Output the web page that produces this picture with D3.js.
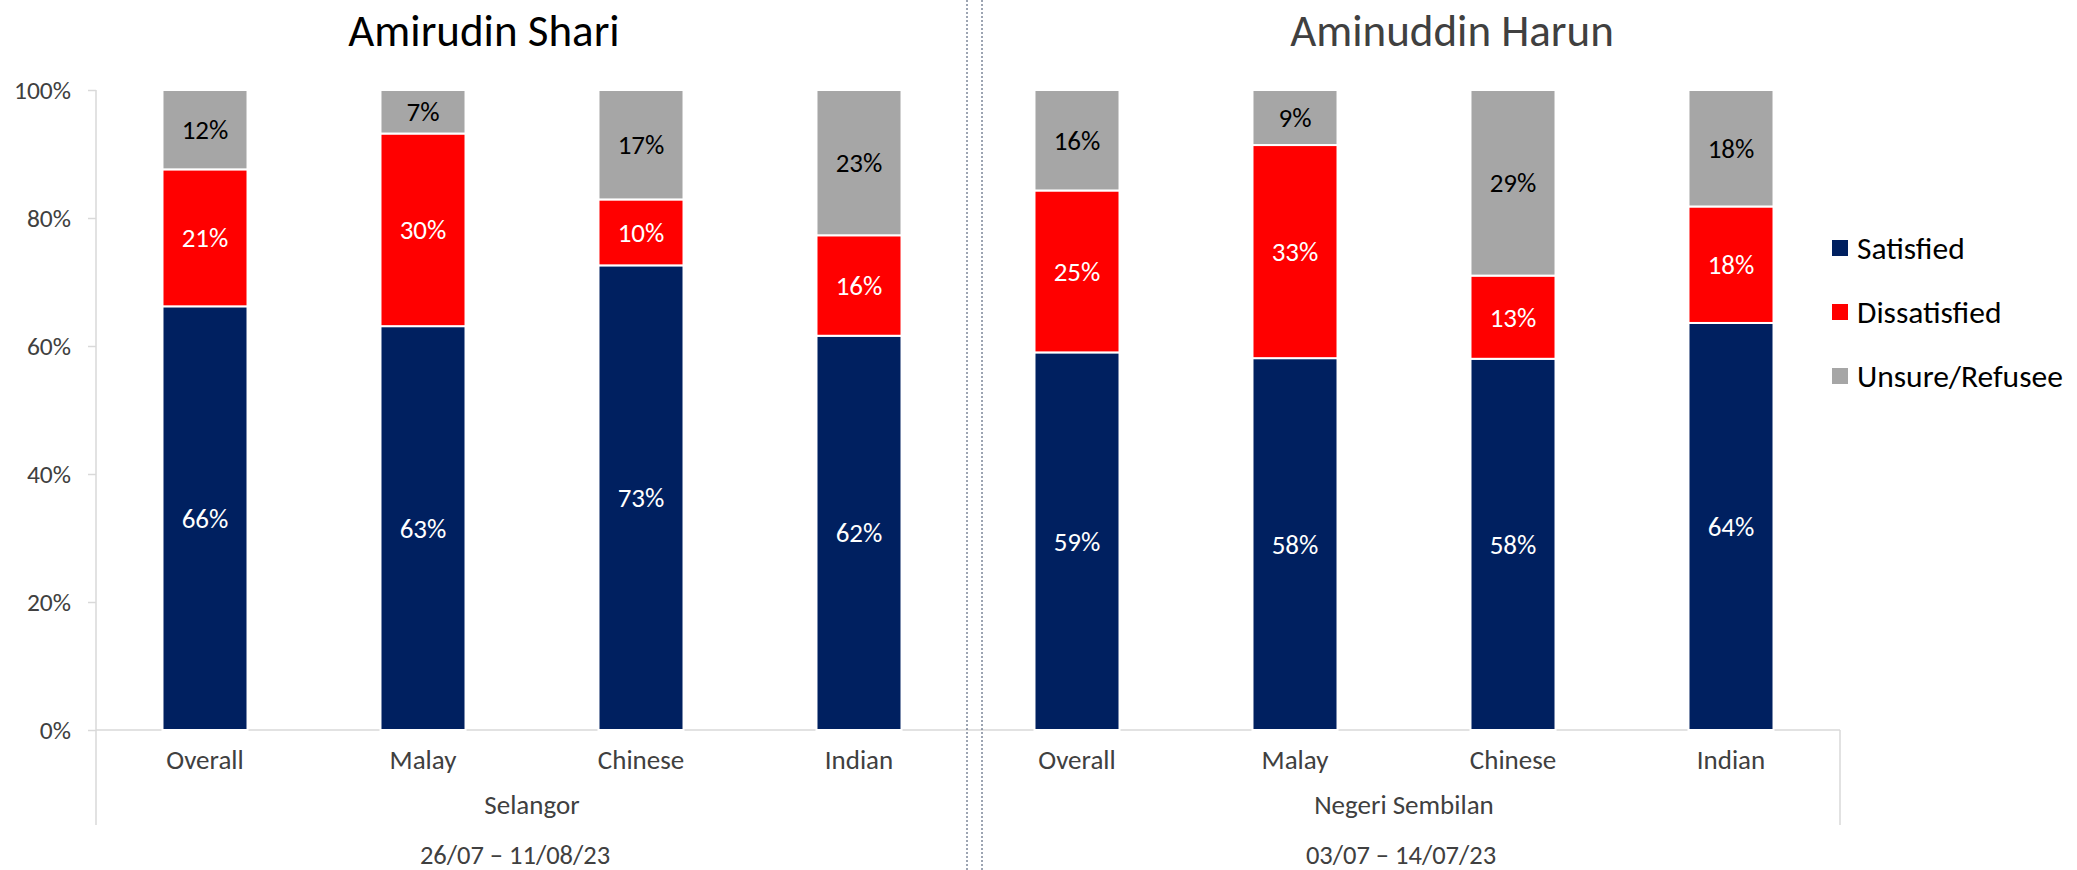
<!DOCTYPE html>
<meta charset="utf-8">
<html>
<head>
<title>Satisfaction</title>
<script src="https://cdn.jsdelivr.net/npm/d3@7"></script>
<style>
  body { margin: 0; background: #fff; }
  text { font-family: Carlito, Lato, sans-serif; }
  .axis text { font-weight: 300; }
</style>
</head>
<body>
<script>
// values, percent of respondents
var leaders = ["Amirudin Shari", "Aminuddin Harun"]
var states = ["Selangor", "Negeri Sembilan"]
var periods = ["26/07 – 11/08/23", "03/07 – 14/07/23"]
var categories = ["Overall", "Malay", "Chinese", "Indian"]
var seriesNames = ["Satisfied", "Dissatisfied", "Unsure/Refusee"]
var satisfied    = [66.2, 63.1, 72.6, 61.6, 59.0, 58.1, 58.0, 63.6]
var dissatisfied = [21.4, 30.1, 10.3, 15.7, 25.3, 33.3, 13.0, 18.2]
var unsure       = [12.4, 6.8, 17.1, 22.7, 15.7, 8.6, 29.0, 18.2]
var yTicks = [0, 20, 40, 60, 80, 100]

var width = 2077, height = 870
var colors = ["#002060", "#ff0000", "#a6a6a6"]
var labelColors = ["#fff", "#fff", "#000"]

var rows = []
states.forEach((s, i) => {
    categories.forEach((c, j) => {
        var k = i * categories.length + j
        rows.push({key: s + "|" + c, state: s, cat: c,
                   Satisfied: satisfied[k], Dissatisfied: dissatisfied[k], "Unsure/Refusee": unsure[k]})
    })
})

var svg = d3.select("body").append("svg")
    .attr("width", width)
    .attr("height", height)

var x = d3.scaleBand()
    .domain(rows.map(d => d.key))
    .range([96, 1840])
    .paddingInner(0.61)
    .paddingOuter(0.305)

var y = d3.scaleLinear().domain([0, 100]).range([730, 90])

var stack = d3.stack().keys(seriesNames)(rows)

// gridless axes, light grey like the original
var axisColor = "#d9d9d9"
var yAxis = svg.append("g")
    .attr("class", "axis")
    .attr("transform", "translate(96,0)")
    .call(d3.axisLeft(y).tickValues(yTicks).tickSize(8).tickPadding(17).tickFormat(d => d + "%"))
yAxis.select(".domain").remove()
yAxis.selectAll("line").attr("stroke", axisColor).attr("stroke-width", 1.5)
yAxis.selectAll("text").attr("fill", "#404040").style("font-size", "25.5px")

svg.append("line")
    .attr("x1", 96).attr("x2", 96)
    .attr("y1", y(100)).attr("y2", 825)
    .attr("stroke", axisColor).attr("stroke-width", 1.5)
svg.append("line")
    .attr("x1", 1840).attr("x2", 1840)
    .attr("y1", y(0)).attr("y2", 825)
    .attr("stroke", axisColor).attr("stroke-width", 1.5)

var xAxis = svg.append("g")
    .attr("class", "axis")
    .attr("transform", "translate(0," + y(0) + ")")
    .call(d3.axisBottom(x).tickSize(0).tickPadding(20).tickFormat(k => k.split("|")[1]))
xAxis.select(".domain").attr("stroke", axisColor).attr("stroke-width", 1.5)
    .attr("d", "M96,0H1840")
xAxis.selectAll("text").attr("fill", "#404040").style("font-size", "27px")

// bars
var layer = svg.selectAll(".layer")
    .data(stack).enter()
    .append("g")
    .attr("class", "layer")
    .attr("fill", (d, i) => colors[i])

layer.selectAll("rect")
    .data(d => d).enter()
    .append("rect")
    .attr("x", d => x(d.data.key))
    .attr("width", x.bandwidth())
    .attr("y", d => y(d[1]))
    .attr("height", d => y(d[0]) - y(d[1]))
    .attr("stroke", "#fff")
    .attr("stroke-width", 2)

stack.forEach((s, i) => {
    svg.append("g").selectAll("text")
        .data(s).enter()
        .append("text")
        .attr("x", d => x(d.data.key) + x.bandwidth() / 2)
        .attr("y", d => (y(d[0]) + y(d[1])) / 2)
        .attr("dy", "0.35em")
        .attr("text-anchor", "middle")
        .attr("fill", labelColors[i])
        .style("font-size", "27px")
        .text(d => Math.round(d[1] - d[0]) + "%")
})

// panel titles, state names and fieldwork dates
var titleX = [484, 1452]
var dateX = [515, 1401]
var half = categories.length
states.forEach((s, i) => {
    var first = rows[i * half].key, last = rows[i * half + half - 1].key
    var mid = (x(first) - x.step() * x.paddingInner() / 2 + x(last) + x.bandwidth() + x.step() * x.paddingInner() / 2) / 2
    svg.append("text")
        .attr("x", titleX[i]).attr("y", 46)
        .attr("text-anchor", "middle")
        .attr("fill", i == 0 ? "#000" : "#404040")
        .style("font-size", "45px").style("font-weight", 300)
        .text(leaders[i])
    svg.append("text")
        .attr("x", mid).attr("y", 814)
        .attr("text-anchor", "middle")
        .attr("fill", "#404040")
        .style("font-size", "27px").style("font-weight", 300)
        .text(s)
    svg.append("text")
        .attr("x", dateX[i]).attr("y", 864)
        .attr("text-anchor", "middle")
        .attr("fill", "#404040")
        .style("font-size", "26.5px").style("font-weight", 300)
        .text(periods[i])
})

// dotted divider between the two panels
;[967, 982].forEach(px => {
    svg.append("line")
        .attr("x1", px).attr("x2", px)
        .attr("y1", 0).attr("y2", height)
        .attr("stroke", "#3b4a66")
        .attr("stroke-width", 1)
        .attr("stroke-dasharray", "2,2")
})

// legend
var legend = svg.selectAll(".legend")
    .data(seriesNames).enter()
    .append("g")
    .attr("class", "legend")
    .attr("transform", (d, i) => "translate(1832," + (248 + i * 64) + ")")
legend.append("rect")
    .attr("y", -8).attr("width", 16).attr("height", 16)
    .attr("fill", (d, i) => colors[i])
legend.append("text")
    .attr("x", 25).attr("dy", "0.35em")
    .attr("fill", "#000")
    .style("font-size", "31.5px")
    .text(d => d)
</script>
</body>
</html>
